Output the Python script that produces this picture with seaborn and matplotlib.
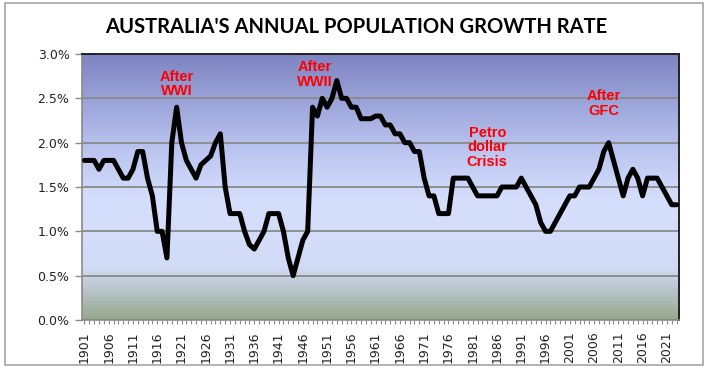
import numpy as np
import pandas as pd
import seaborn as sns
import matplotlib.pyplot as plt
from matplotlib.colors import LinearSegmentedColormap
from matplotlib.patches import Rectangle
from matplotlib.ticker import FuncFormatter, MultipleLocator

# === Data: annual population growth rate (%) ===
years = list(range(1901, 2024))
growth = [
    1.8, 1.8, 1.8, 1.7, 1.8, 1.8, 1.8, 1.7, 1.6, 1.6,      # 1901-1910
    1.7, 1.9, 1.9, 1.6, 1.4, 1.0, 1.0, 0.7, 2.0, 2.4,      # 1911-1920
    2.0, 1.8, 1.7, 1.6, 1.75, 1.8, 1.85, 2.0, 2.1, 1.5,    # 1921-1930
    1.2, 1.2, 1.2, 1.0, 0.85, 0.8, 0.9, 1.0, 1.2, 1.2,     # 1931-1940
    1.2, 1.0, 0.7, 0.5, 0.7, 0.9, 1.0, 2.4, 2.3, 2.5,      # 1941-1950
    2.4, 2.5, 2.7, 2.5, 2.5, 2.4, 2.4, 2.27, 2.27, 2.27,   # 1951-1960
    2.3, 2.3, 2.2, 2.2, 2.1, 2.1, 2.0, 2.0, 1.9, 1.9,      # 1961-1970
    1.6, 1.4, 1.4, 1.2, 1.2, 1.2, 1.6, 1.6, 1.6, 1.6,      # 1971-1980
    1.5, 1.4, 1.4, 1.4, 1.4, 1.4, 1.5, 1.5, 1.5, 1.5,      # 1981-1990
    1.6, 1.5, 1.4, 1.3, 1.1, 1.0, 1.0, 1.1, 1.2, 1.3,      # 1991-2000
    1.4, 1.4, 1.5, 1.5, 1.5, 1.6, 1.7, 1.9, 2.0, 1.8,      # 2001-2010
    1.6, 1.4, 1.6, 1.7, 1.6, 1.4, 1.6, 1.6, 1.6, 1.5,      # 2011-2020
    1.4, 1.3, 1.3,                                         # 2021-2023
]
tick_years = list(range(1901, 2022, 5))

notes = ["After\nWWI", "After\nWWII", "Petro\ndollar\nCrisis", "After\nGFC"]
note_years = [1920, 1948.5, 1984, 2008]
note_levels = [2.66, 2.77, 1.95, 2.44]

df = pd.DataFrame({"Year": years, "Growth": growth})

# === Plot ===
sns.set_style("white")
plt.rcParams["font.family"] = ["DejaVu Sans"]

fig = plt.figure(figsize=(7.11, 3.69), dpi=100)
ax = fig.add_axes([82 / 711, 1 - 320 / 369, 597 / 711, 266 / 369])

# gradient background of the plot area
grad_cmap = LinearSegmentedColormap.from_list("bg", [
    (0.00, "#95a98b"),
    (0.10, "#b5c2c4"),
    (0.20, "#d2dbf6"),
    (0.45, "#d5dffc"),
    (0.65, "#b9c3ef"),
    (1.00, "#7d84c2"),
])
grad = np.linspace(0, 1, 256).reshape(-1, 1)
ax.imshow(grad, cmap=grad_cmap, origin="lower", aspect="auto",
          extent=[1900.5, 2023.5, 0, 3.0], zorder=0)

sns.lineplot(data=df, x="Year", y="Growth", color="black", linewidth=3.6,
             ax=ax, zorder=3)

ax.set_xlim(1900.5, 2023.5)
ax.set_ylim(0, 3.0)
ax.yaxis.set_major_locator(MultipleLocator(0.5))
ax.yaxis.set_major_formatter(FuncFormatter(lambda v, p: f"{v:.1f}%"))
ax.set_xticks(tick_years)
ax.set_xticklabels([str(y) for y in tick_years], rotation=90)
ax.xaxis.set_minor_locator(MultipleLocator(1))
ax.grid(True, axis="y", color="#8a8a8a", linewidth=1.3, zorder=1)
ax.set_axisbelow(True)
ax.set_xlabel("")
ax.set_ylabel("")

ax.tick_params(axis="y", which="major", length=5, width=1, color="#8a8a8a",
               labelsize=9, labelcolor="#222222", pad=4, left=True)
ax.tick_params(axis="x", which="both", length=3, width=0.8, color="#8a8a8a",
               labelsize=9, labelcolor="#222222", pad=5, bottom=True)

for side in ["left", "bottom"]:
    ax.spines[side].set_color("#8a8a8a")
    ax.spines[side].set_linewidth(1.2)
for side in ["top", "right"]:
    ax.spines[side].set_color("#222222")
    ax.spines[side].set_linewidth(1.4)

for txt, yr, lvl in zip(notes, note_years, note_levels):
    ax.text(yr, lvl, txt, color="red", fontsize=10.5, fontweight="bold",
            ha="center", va="center", linespacing=1.05, zorder=4,
            family=["Liberation Sans", "DejaVu Sans"])

fig.text(356 / 711, 1 - 27 / 369, "AUSTRALIA'S ANNUAL POPULATION GROWTH RATE",
         ha="center", va="center", fontsize=14.5, fontweight="bold", color="black",
         family=["Lato", "DejaVu Sans"])

# outer chart frame
fig.patches.append(Rectangle((5 / 711, 4 / 369), 698 / 711, 362 / 369,
                             transform=fig.transFigure, fill=False,
                             edgecolor="#a6a6a6", linewidth=1.2))

fig.savefig("out.png", dpi=100)
